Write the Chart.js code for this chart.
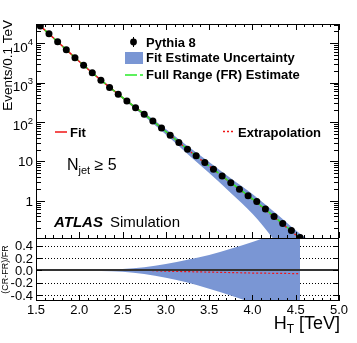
<!DOCTYPE html>
<html>
<head>
<meta charset="utf-8">
<script src="https://cdn.jsdelivr.net/npm/chart.js@4.4.0/dist/chart.umd.min.js"></script>
<style>
  html, body { margin: 0; padding: 0; background: #fff; }
  #wrap { width: 357px; height: 343px; }
</style>
</head>
<body>
<div id="wrap"><canvas id="myChart" width="357" height="343"></canvas></div>
<script>
// Pythia 8 histogram, 0.1 TeV bins
const binCentres = [1.55, 1.65, 1.75, 1.85, 1.95, 2.05, 2.15, 2.25, 2.35, 2.45, 2.55,
  2.65, 2.75, 2.85, 2.95, 3.05, 3.15, 3.25, 3.35, 3.45, 3.55, 3.65, 3.75, 3.85,
  3.95, 4.05, 4.15, 4.25, 4.35, 4.45, 4.55];
const pythiaEvents = [27540, 17580, 10960, 6920, 4315, 2754, 1799, 1148, 750, 507, 343,
  232, 158, 107, 70.8, 46.2, 30.2, 20.4, 14.0, 9.33, 6.31, 4.27, 2.88, 1.97,
  1.33, 0.955, 0.617, 0.398, 0.263, 0.174, 0.117];

// full range estimate and fit / extrapolation curves
const curveX = [1.5, 1.75, 2.0, 2.25, 2.5, 2.75, 3.0, 3.25, 3.5, 3.75, 4.0, 4.25, 4.5, 4.6];
const frEstimate = [34670, 10965, 3467, 1160, 417, 158.5, 57.5, 20.4, 7.67, 2.88, 1.12, 0.398, 0.141, 0.0955];
const fitX = [1.5, 1.75, 2.0, 2.25, 2.5, 2.75];
const fitCurve = [34670, 10965, 3467, 1160, 417, 158.5];
const extrapX = [2.75, 3.0, 3.25, 3.5, 3.75, 4.0, 4.25, 4.5, 4.6];
const extrapCurve = [158.5, 57.2, 20.2, 7.56, 2.83, 1.09, 0.386, 0.136, 0.092];

// fit estimate uncertainty band (top panel)
const bandX = [1.5, 2.0, 2.5, 2.75, 3.0, 3.25, 3.5, 3.75, 4.0, 4.25, 4.5, 4.65];
const bandHigh = [35480, 3589, 441.6, 173.8, 66.1, 24.5, 9.66, 3.72, 1.48, 0.525, 0.178, 0.1];
const bandLow = [33880, 3350, 389, 141.3, 47.9, 15.5, 5.07, 1.58, 0.468, 0.1, 0.014, 0.01];

// ratio panel (CR-FR)/FR
const ratioX = [1.5, 2.0, 2.5, 2.75, 3.0, 3.25, 3.5, 3.75, 4.0, 4.25, 4.55];
const ratioUp = [0.003, 0.008, 0.02, 0.05, 0.10, 0.17, 0.25, 0.35, 0.46, 0.58, 0.7];
const ratioDown = [-0.003, -0.008, -0.025, -0.06, -0.12, -0.2, -0.3, -0.41, -0.53, -0.65, -0.8];
const ratioExtrapX = [2.75, 3.0, 3.5, 4.0, 4.55];
const ratioExtrap = [0, -0.015, -0.03, -0.045, -0.055];

// axis labels
const xMajorTicks = [1.5, 2.0, 2.5, 3.0, 3.5, 4.0, 4.5, 5.0];
const xTickLabels = ['1.5', '2.0', '2.5', '3.0', '3.5', '4.0', '4.5', '5.0'];
const yDecades = [1, 10, 100, 1000, 10000];
const yDecadeBase = ['1', '10', '10', '10', '10'];
const yDecadeExp = ['', '', '2', '3', '4'];
const ratioTicks = [-0.4, -0.2, 0, 0.2, 0.4];
const ratioTickLabels = ['-0.4', '-0.2', '0.0', '0.2', '0.4'];

const FONT = '"Liberation Sans", Arial, Helvetica, sans-serif';
const BAND = 'rgb(122,150,212)';
const RED = 'rgb(240,20,20)';
const GREEN = 'rgb(40,235,40)';
const NONE = 'rgba(0,0,0,0)';

function pts(xs, ys) {
  return xs.map((x, i) => ({ x: x, y: ys[i] }));
}

function isDecade(v) {
  const l = Math.log10(v);
  return Math.abs(l - Math.round(l)) < 1e-6;
}

function line(ctx, x1, y1, x2, y2) {
  ctx.beginPath();
  ctx.moveTo(x1, y1);
  ctx.lineTo(x2, y2);
  ctx.stroke();
}

const atlasDecor = {
  id: 'atlasDecor',
  beforeDatasetsDraw(chart) {
    const ctx = chart.ctx;
    const x = chart.scales.x, y2 = chart.scales.y2;
    ctx.save();
    ctx.strokeStyle = '#000';
    ctx.lineWidth = 1;
    ctx.setLineDash([1, 2]);
    ratioTicks.forEach(v => {
      if (v === 0) return;
      const py = Math.round(y2.getPixelForValue(v)) + 0.5;
      line(ctx, x.left, py, x.right, py);
    });
    ctx.restore();
  },
  afterDatasetsDraw(chart) {
    const ctx = chart.ctx;
    const x = chart.scales.x, y2 = chart.scales.y2;
    ctx.save();
    ctx.strokeStyle = '#333';
    ctx.lineWidth = 2;
    const p0 = Math.round(y2.getPixelForValue(0));
    line(ctx, x.left, p0, x.right, p0);
    ctx.restore();
  },
  afterDraw(chart) {
    const ctx = chart.ctx;
    const x = chart.scales.x, y = chart.scales.y, y2 = chart.scales.y2;
    const L = x.left, R = x.right, T = y.top, M = y.bottom, B = y2.bottom;
    ctx.save();
    ctx.strokeStyle = '#000';
    ctx.lineWidth = 1;
    ctx.setLineDash([]);
    // frames
    ctx.strokeRect(L + 0.5, T + 0.5, R - L - 1, M - T);
    ctx.strokeRect(L + 0.5, M + 0.5, R - L - 1, B - M - 1);

    // log ticks, left and right
    y.ticks.forEach(t => {
      const py = Math.round(y.getPixelForValue(t.value)) + 0.5;
      if (py < T || py > M) return;
      const len = isDecade(t.value) ? 9 : 5;
      line(ctx, L, py, L + len, py);
      line(ctx, R, py, R - len, py);
    });
    // ratio ticks
    ratioTicks.forEach(v => {
      const py = Math.round(y2.getPixelForValue(v)) + 0.5;
      line(ctx, L, py, L + 6, py);
      line(ctx, R, py, R - 6, py);
    });
    // x ticks: top edge, panel boundary, bottom edge
    x.ticks.forEach(t => {
      const px = Math.round(x.getPixelForValue(t.value)) + 0.5;
      const major = xMajorTicks.indexOf(Math.round(t.value * 10) / 10) >= 0;
      const len = major ? 6 : 3;
      line(ctx, px, T, px, T + len);
      line(ctx, px, M, px, M - len);
      line(ctx, px, B, px, B - len);
    });

    ctx.fillStyle = '#000';
    // y tick labels with exponents
    ctx.textAlign = 'right';
    ctx.textBaseline = 'alphabetic';
    yDecades.forEach((v, i) => {
      const py = y.getPixelForValue(v);
      if (yDecadeExp[i]) {
        ctx.font = '9.5px ' + FONT;
        ctx.fillText(yDecadeExp[i], 33, py + 1.7);
        const w = ctx.measureText(yDecadeExp[i]).width;
        ctx.font = '13.5px ' + FONT;
        ctx.fillText(yDecadeBase[i], 33 - w, py + 8.4);
      } else {
        ctx.font = '13.5px ' + FONT;
        ctx.fillText(yDecadeBase[i], 33, py + 5);
      }
    });
    ctx.font = '13px ' + FONT;
    ratioTicks.forEach((v, i) => {
      ctx.fillText(ratioTickLabels[i], 33, y2.getPixelForValue(v) + 4.7);
    });

    // axis titles
    ctx.save();
    ctx.translate(12, 20);
    ctx.rotate(-Math.PI / 2);
    ctx.textAlign = 'right';
    ctx.font = '13.5px ' + FONT;
    ctx.fillText('Events/0.1 TeV', 0, 0);
    ctx.restore();

    ctx.save();
    ctx.translate(8, (M + B) / 2);
    ctx.rotate(-Math.PI / 2);
    ctx.textAlign = 'center';
    ctx.font = '9px ' + FONT;
    ctx.fillText('(CR-FR)/FR', 0, 0);
    ctx.restore();

    // H_T [TeV]
    ctx.textAlign = 'left';
    ctx.font = '18px ' + FONT;
    const wRest = ctx.measureText(' [TeV]').width;
    const wH = ctx.measureText('H').width;
    ctx.font = '12px ' + FONT;
    const wT = ctx.measureText('T').width;
    let xt = 340 - wRest - wT - wH;
    ctx.font = '18px ' + FONT;
    ctx.fillText('H', xt, 329);
    ctx.font = '12px ' + FONT;
    ctx.fillText('T', xt + wH, 333);
    ctx.font = '18px ' + FONT;
    ctx.fillText(' [TeV]', xt + wH + wT, 329);

    // N_jet >= 5
    ctx.font = '16px ' + FONT;
    ctx.fillText('N', 67, 170);
    let wN = ctx.measureText('N').width;
    ctx.font = '11px ' + FONT;
    ctx.fillText('jet', 67 + wN, 174);
    let wj = ctx.measureText('jet').width;
    ctx.font = '16px ' + FONT;
    ctx.fillText(' \u2265 5', 67 + wN + wj, 170);

    // ATLAS Simulation
    ctx.font = 'italic bold 15px ' + FONT;
    ctx.fillText('ATLAS', 54, 227);
    ctx.font = '15px ' + FONT;
    ctx.fillText('Simulation', 110, 227);

    // legend
    ctx.font = 'bold 13px ' + FONT;
    ctx.fillText('Pythia 8', 146, 46.7);
    ctx.fillText('Fit Estimate Uncertainty', 146, 62.3);
    ctx.fillText('Full Range (FR) Estimate', 146, 78.5);
    ctx.fillText('Fit', 70, 136.7);
    ctx.fillText('Extrapolation', 238, 136.7);

    ctx.beginPath();
    ctx.arc(133.5, 42, 3.4, 0, Math.PI * 2);
    ctx.fill();
    line(ctx, 133.5, 37, 133.5, 47);
    ctx.fillStyle = BAND;
    ctx.fillRect(125, 52, 18, 12);
    ctx.lineWidth = 1.5;
    ctx.strokeStyle = GREEN;
    ctx.setLineDash([12, 3]);
    line(ctx, 125, 75, 143, 75);
    ctx.strokeStyle = RED;
    ctx.setLineDash([]);
    line(ctx, 55, 132, 67, 132);
    ctx.setLineDash([2, 2]);
    line(ctx, 223, 131.5, 234, 131.5);
    ctx.restore();
  }
};

const data = {
  datasets: [{
    label: 'Pythia 8',
    data: pts(binCentres, pythiaEvents),
    yAxisID: 'y',
    showLine: false,
    pointRadius: 3.5,
    pointBackgroundColor: '#000',
    pointBorderWidth: 0,
    order: 0
  }, {
    label: 'Full Range (FR) Estimate',
    data: pts(curveX, frEstimate),
    yAxisID: 'y',
    borderColor: GREEN,
    borderWidth: 1.5,
    borderDash: [9, 3],
    pointRadius: 0,
    cubicInterpolationMode: 'monotone',
    order: 1
  }, {
    label: 'Fit',
    data: pts(fitX, fitCurve),
    yAxisID: 'y',
    borderColor: RED,
    borderWidth: 1.5,
    pointRadius: 0,
    cubicInterpolationMode: 'monotone',
    order: 2
  }, {
    label: 'Extrapolation',
    data: pts(extrapX, extrapCurve),
    yAxisID: 'y',
    borderColor: RED,
    borderWidth: 1.5,
    borderDash: [2, 2],
    pointRadius: 0,
    cubicInterpolationMode: 'monotone',
    order: 2
  }, {
    label: 'Fit Estimate Uncertainty',
    data: pts(bandX, bandHigh),
    yAxisID: 'y',
    fill: '+1',
    backgroundColor: BAND,
    borderColor: NONE,
    borderWidth: 0,
    pointRadius: 0,
    cubicInterpolationMode: 'monotone',
    order: 3
  }, {
    label: 'band low',
    data: pts(bandX, bandLow),
    yAxisID: 'y',
    fill: false,
    borderColor: NONE,
    borderWidth: 0,
    pointRadius: 0,
    cubicInterpolationMode: 'monotone',
    order: 3
  }, {
    label: 'ratio up',
    data: pts(ratioX, ratioUp),
    yAxisID: 'y2',
    fill: '+1',
    backgroundColor: BAND,
    borderColor: NONE,
    borderWidth: 0,
    pointRadius: 0,
    cubicInterpolationMode: 'monotone',
    order: 3
  }, {
    label: 'ratio down',
    data: pts(ratioX, ratioDown),
    yAxisID: 'y2',
    fill: false,
    borderColor: NONE,
    borderWidth: 0,
    pointRadius: 0,
    cubicInterpolationMode: 'monotone',
    order: 3
  }, {
    label: 'ratio extrapolation',
    data: pts(ratioExtrapX, ratioExtrap),
    yAxisID: 'y2',
    borderColor: RED,
    borderWidth: 1.2,
    borderDash: [2, 2],
    pointRadius: 0,
    order: 1
  }]
};

const config = {
  type: 'line',
  data: data,
  plugins: [atlasDecor],
  options: {
    responsive: false,
    animation: false,
    events: [],
    layout: { padding: { top: 24, right: 18, left: 0, bottom: 0 } },
    plugins: {
      legend: { display: false },
      tooltip: { enabled: false }
    },
    scales: {
      x: {
        type: 'linear',
        position: 'bottom',
        min: 1.5,
        max: 5.0,
        afterBuildTicks: scale => {
          const ticks = [];
          for (let i = 0; i <= 35; i++) ticks.push({ value: Math.round((1.5 + i * 0.1) * 10) / 10 });
          scale.ticks = ticks;
        },
        afterFit: scale => { scale.height = 42; },
        grid: { display: false, drawTicks: false },
        border: { display: false },
        ticks: {
          autoSkip: false,
          maxRotation: 0,
          padding: 2,
          color: '#000',
          font: { family: FONT, size: 13 },
          callback: value => {
            const i = xMajorTicks.indexOf(Math.round(value * 10) / 10);
            return i >= 0 ? xTickLabels[i] : '';
          }
        }
      },
      // ratio panel first: the later stacked scale is placed on top
      y2: {
        type: 'linear',
        position: 'left',
        stack: 'panels',
        stackWeight: 63,
        min: -0.5,
        max: 0.525,
        afterBuildTicks: scale => {
          scale.ticks = ratioTicks.map(v => ({ value: v }));
        },
        afterFit: scale => { scale.width = 36; },
        grid: { display: false, drawTicks: false },
        border: { display: false },
        ticks: { display: false }
      },
      y: {
        type: 'logarithmic',
        position: 'left',
        stack: 'panels',
        stackWeight: 214,
        min: 0.113,
        max: 31000,
        afterBuildTicks: scale => {
          const ticks = [];
          for (let e = -1; e <= 4; e++) {
            for (let m = 1; m <= 9; m++) {
              const v = m * Math.pow(10, e);
              if (v >= scale.min && v <= scale.max) ticks.push({ value: v });
            }
          }
          scale.ticks = ticks;
        },
        afterFit: scale => { scale.width = 36; },
        grid: { display: false, drawTicks: false },
        border: { display: false },
        ticks: { display: false }
      }
    }
  }
};

const myChart = document.getElementById('myChart').getContext('2d');
const lineChart = new Chart(myChart, config);
</script>
</body>
</html>
